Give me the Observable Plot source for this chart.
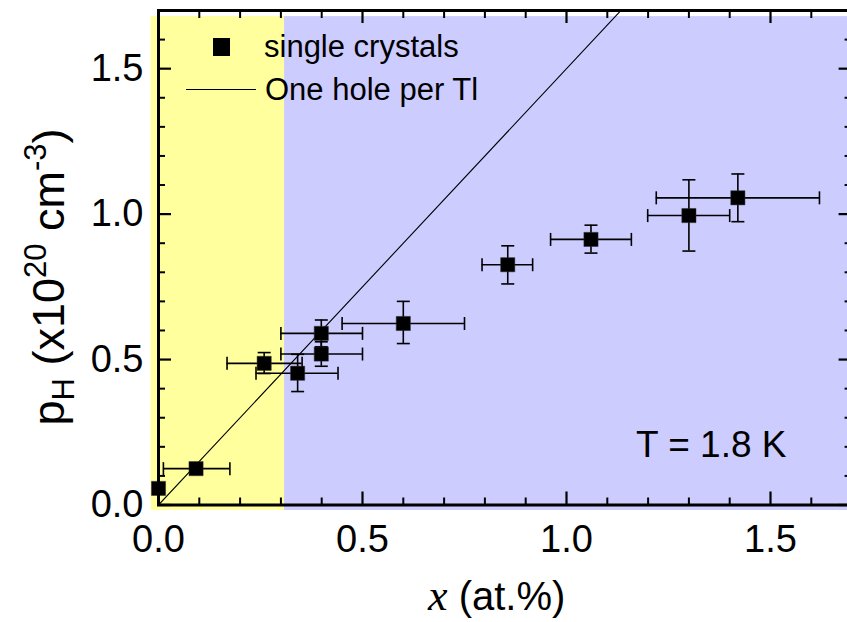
<!DOCTYPE html>
<html><head><meta charset="utf-8">
<script src="https://cdn.jsdelivr.net/npm/d3@7"></script>
<script src="https://cdn.jsdelivr.net/npm/@observablehq/plot@0.6"></script>
<style>html,body{margin:0;padding:0;background:#fff;overflow:hidden}#chart svg{display:block}</style>
</head><body><div id="chart"></div>
<script>
// ---- data ----
const xContent = [0.000, 0.092, 0.259, 0.341, 0.399, 0.399, 0.600, 0.856, 1.060, 1.300, 1.420];
const pHall    = [0.057, 0.125, 0.487, 0.453, 0.590, 0.519, 0.624, 0.826, 0.913, 0.995, 1.056];
const xLow     = [0.000, 0.012, 0.168, 0.239, 0.300, 0.300, 0.450, 0.793, 0.961, 1.199, 1.220];
const xHigh    = [0.000, 0.175, 0.352, 0.440, 0.500, 0.500, 0.750, 0.917, 1.159, 1.400, 1.620];
const pLow     = [0.057, 0.125, 0.452, 0.390, 0.544, 0.477, 0.555, 0.760, 0.866, 0.873, 0.974];
const pHigh    = [0.057, 0.125, 0.524, 0.518, 0.636, 0.561, 0.700, 0.891, 0.962, 1.118, 1.138];
const holesPerTlSlope = 1.5;             // one hole per Tl line: pH = 1.5 * x
const lineXs = [0, 1.7];
const regionX1 = [-0.018, 0.309];
const regionX2 = [0.309, 1.75];
const regionY1 = [-0.019, -0.019];
const regionY2 = [1.679, 1.679];
const xMajor = [0, 0.5, 1.0, 1.5];
const xTickLabels = ["0.0", "0.5", "1.0", "1.5"];
const xMinor = [0.1, 0.2, 0.3, 0.4, 0.6, 0.7, 0.8, 0.9, 1.1, 1.2, 1.3, 1.4, 1.6];
const yMajor = [0, 0.5, 1.0, 1.5];
const yTickLabels = ["0.0", "0.5", "1.0", "1.5"];
const yMinor = [0.1, 0.2, 0.3, 0.4, 0.6, 0.7, 0.8, 0.9, 1.1, 1.2, 1.3, 1.4, 1.6];
const legendLabels = ["single crystals", "One hole per Tl"];
const tempLabel = "T = 1.8 K";

// ---- build ----
const pts = xContent.map((x, i) => ({x, y: pHall[i], xl: xLow[i], xh: xHigh[i], yl: pLow[i], yh: pHigh[i]}));
const regions = regionX1.map((x1, i) => ({x1, x2: regionX2[i], y1: regionY1[i], y2: regionY2[i], c: i}));
const lineData = lineXs.map(x => ({x, y: holesPerTlSlope * x}));

const W = 847, H = 622, mL = 158, mR = -4.6, mT = 10, mB = 117.5;
const plotW = W - mL - mR, plotH = H - mT - mB;
const vCap = {draw(ctx, size) { const r = Math.sqrt(size / Math.PI); ctx.moveTo(0, -r); ctx.lineTo(0, r); }};
const hCap = {draw(ctx, size) { const r = Math.sqrt(size / Math.PI); ctx.moveTo(-r, 0); ctx.lineTo(r, 0); }};
const font = "'Liberation Sans', Arial, sans-serif";

const chart = Plot.plot({
  width: W, height: H,
  marginLeft: mL, marginRight: mR, marginTop: mT, marginBottom: mB,
  style: {fontFamily: font, fontSize: "38px", background: "white", overflow: "visible"},
  x: {domain: [0, 1.7]},
  y: {domain: [0, 1.7]},
  color: {type: "ordinal", domain: [0, 1], range: ["#FFFF9E", "#CCCCFF"]},
  marks: [
    Plot.rect(regions, {x1: "x1", x2: "x2", y1: "y1", y2: "y2", fill: "c"}),
    Plot.line(lineData, {x: "x", y: "y", stroke: "black", strokeWidth: 1.1, clip: true}),
    Plot.ruleY(pts, {y: "y", x1: "xl", x2: "xh", stroke: "black", strokeWidth: 1.6}),
    Plot.ruleX(pts, {x: "x", y1: "yl", y2: "yh", stroke: "black", strokeWidth: 1.6}),
    Plot.dot(pts, {x: "xl", y: "y", symbol: vCap, r: 6.5, stroke: "black", fill: "none", strokeWidth: 1.6}),
    Plot.dot(pts, {x: "xh", y: "y", symbol: vCap, r: 6.5, stroke: "black", fill: "none", strokeWidth: 1.6}),
    Plot.dot(pts, {x: "x", y: "yl", symbol: hCap, r: 6.5, stroke: "black", fill: "none", strokeWidth: 1.6}),
    Plot.dot(pts, {x: "x", y: "yh", symbol: hCap, r: 6.5, stroke: "black", fill: "none", strokeWidth: 1.6}),
    Plot.dot(pts, {x: "x", y: "y", symbol: "square", r: 8, fill: "black", stroke: "#333", strokeWidth: 0.5}),
    // inward ticks on all four sides
    Plot.ruleX(xMajor, {x: d => d, insetTop: plotH - 13, stroke: "black", strokeWidth: 2.2}),
    Plot.ruleX(xMinor, {x: d => d, insetTop: plotH - 7, stroke: "black", strokeWidth: 2}),
    Plot.ruleX(xMajor, {x: d => d, insetBottom: plotH - 13, stroke: "black", strokeWidth: 2.2}),
    Plot.ruleX(xMinor, {x: d => d, insetBottom: plotH - 8, stroke: "black", strokeWidth: 2}),
    Plot.ruleY(yMajor, {y: d => d, insetRight: plotW - 13, stroke: "black", strokeWidth: 2.2}),
    Plot.ruleY(yMinor, {y: d => d, insetRight: plotW - 7, stroke: "black", strokeWidth: 2}),
    Plot.ruleY(yMajor, {y: d => d, insetLeft: plotW - 13, stroke: "black", strokeWidth: 2.2}),
    Plot.ruleY(yMinor, {y: d => d, insetLeft: plotW - 7, stroke: "black", strokeWidth: 2}),
    Plot.frame({stroke: "black", strokeWidth: 3}),
    Plot.axisX({ticks: xMajor, tickSize: 0, tickPadding: 20, tickFormat: d => xTickLabels[xMajor.indexOf(d)], label: null, fontSize: 38}),
    Plot.axisY({ticks: yMajor, tickSize: 0, tickPadding: 15, tickFormat: d => yTickLabels[yMajor.indexOf(d)], label: null, fontSize: 38})
  ]
});
document.getElementById("chart").appendChild(chart);

// ---- titles, legend and annotation as real text ----
const svg = d3.select(chart);
const g = svg.append("g").attr("font-family", font).attr("text-anchor", "start").style("white-space", "pre");
// y title
const yt = g.append("text").attr("transform", "translate(64,277) rotate(-90)")
  .attr("text-anchor", "middle").attr("font-size", 45);
yt.append("tspan").text("p");
yt.append("tspan").attr("font-size", 31).attr("dy", 10).text("H");
yt.append("tspan").attr("dy", -10).text(" (x10");
yt.append("tspan").attr("font-size", 31).attr("dy", -18).text("20");
yt.append("tspan").attr("dy", 18).text(" cm");
yt.append("tspan").attr("font-size", 31).attr("dy", -18).text("-3");
yt.append("tspan").attr("dy", 18).text(")");
// x title
const xt = g.append("text").attr("x", 428).attr("y", 610).attr("font-size", 40);
xt.append("tspan").attr("font-family", "'Liberation Serif', 'Times New Roman', serif").attr("font-style", "italic").attr("font-size", 44).text("x");
xt.append("tspan").text(" (at.%)");
// legend
g.append("rect").attr("x", 213).attr("y", 38).attr("width", 17).attr("height", 18).attr("fill", "black");
g.append("text").attr("x", 264).attr("y", 57).attr("font-size", 31).text(legendLabels[0]);
g.append("line").attr("x1", 186).attr("x2", 256).attr("y1", 89.5).attr("y2", 89.5).attr("stroke", "black").attr("stroke-width", 1.1);
g.append("text").attr("x", 265).attr("y", 100).attr("font-size", 31).text(legendLabels[1]);
// temperature
g.append("text").attr("x", 636).attr("y", 457).attr("font-size", 37).text(tempLabel);
</script>
</body></html>
